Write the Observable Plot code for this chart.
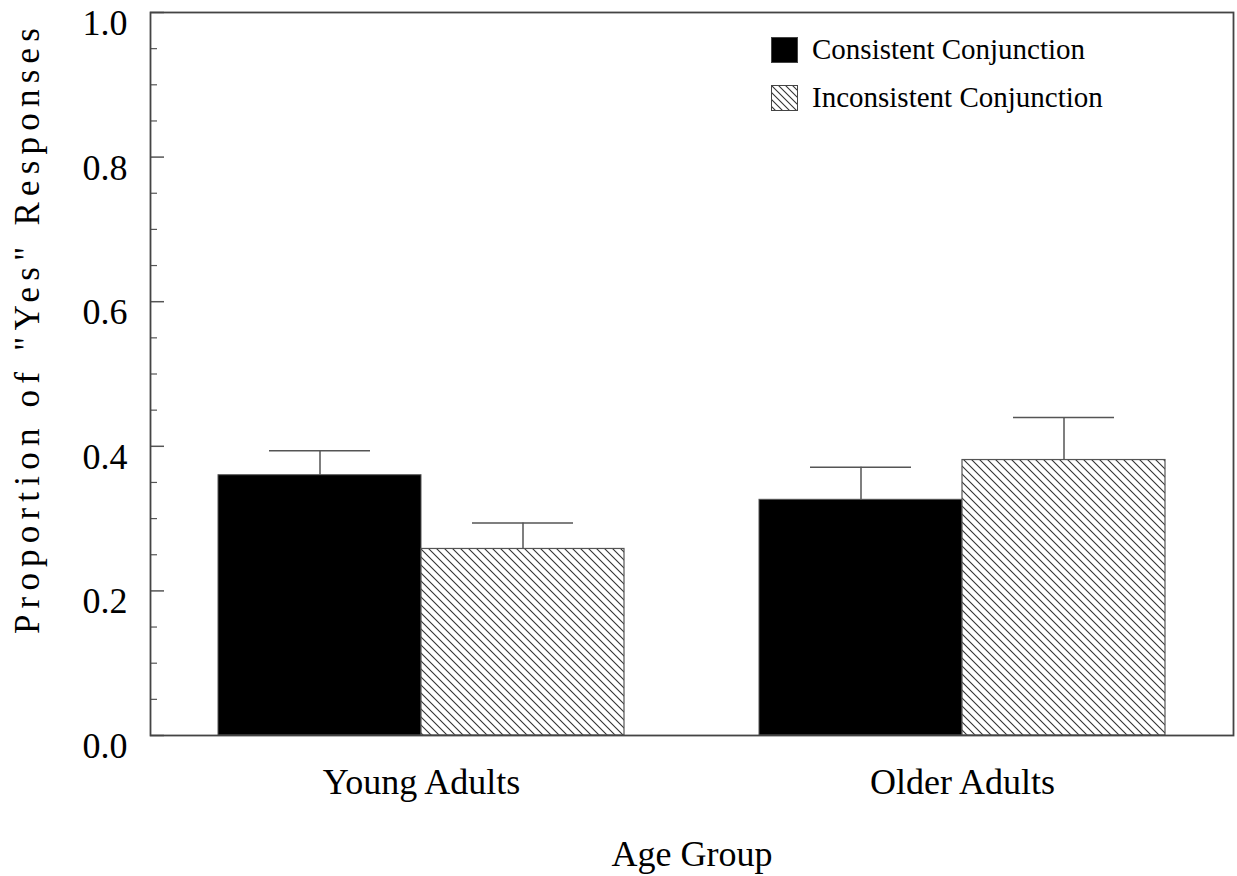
<!DOCTYPE html>
<html>
<head>
<meta charset="utf-8">
<script src="https://cdn.jsdelivr.net/npm/d3@7"></script>
<script src="https://cdn.jsdelivr.net/npm/@observablehq/plot@0.6"></script>
<style>
  html, body { margin: 0; padding: 0; background: #fff; }
  #wrap { position: relative; width: 1237px; height: 876px; font-family: "Liberation Serif", "Times New Roman", serif; }
  .leg { position: absolute; display: flex; align-items: center; font-size: 29px; color: #000; white-space: nowrap; }
  .leg svg { margin-right: 14px; }
</style>
</head>
<body>
<div id="wrap"></div>
<script>
// ---- data ----
const groups = ["Young Adults", "Older Adults"];
const series = ["Consistent Conjunction", "Inconsistent Conjunction"];
const consistent = [0.360, 0.326];
const consistentUpper = [0.394, 0.371];
const inconsistent = [0.258, 0.381];
const inconsistentUpper = [0.294, 0.440];
const yMajor = [0, 0.2, 0.4, 0.6, 0.8, 1.0];
const yMinor = [0.05, 0.1, 0.15, 0.25, 0.3, 0.35, 0.45, 0.5, 0.55, 0.65, 0.7, 0.75, 0.85, 0.9, 0.95];
const xTitle = "Age Group";
const yTitle = "Proportion of \"Yes\" Responses";

const consRows = groups.map((g, i) => ({group: g, value: consistent[i], upper: consistentUpper[i]}));
const incRows = groups.map((g, i) => ({group: g, value: inconsistent[i], upper: inconsistentUpper[i]}));

const W = 1237, H = 876;
const half = 203; // half of band width

const plot = Plot.plot({
  width: W,
  height: H,
  marginLeft: 150,
  marginRight: 4,
  marginTop: 12,
  marginBottom: 141,
  style: {fontFamily: "Liberation Serif, Times New Roman, serif", fontSize: "36px", color: "#000", background: "#fff", overflow: "visible"},
  x: {domain: groups, paddingInner: 0.25, paddingOuter: 0.125, label: null},
  y: {domain: [0, 1], label: null},
  marks: [
    Plot.barY(consRows, {x: "group", y: "value", insetRight: half, fill: "#000", stroke: "#555", strokeWidth: 1}),
    Plot.barY(incRows, {x: "group", y: "value", insetLeft: half, fill: "url(#hatch)", stroke: "#555", strokeWidth: 1.2}),
    Plot.ruleX(consRows, {x: "group", y1: "value", y2: "upper", dx: -half / 2, stroke: "#555", strokeWidth: 1.5}),
    Plot.ruleX(incRows, {x: "group", y1: "value", y2: "upper", dx: half / 2, stroke: "#555", strokeWidth: 1.5}),
    Plot.tickY(consRows, {x: "group", y: "upper", insetLeft: 51, insetRight: 254, stroke: "#555", strokeWidth: 1.5}),
    Plot.tickY(incRows, {x: "group", y: "upper", insetLeft: 254, insetRight: 51, stroke: "#555", strokeWidth: 1.5}),
    Plot.axisY({ticks: yMajor, tickSize: -14, text: null, stroke: "#555", strokeWidth: 1.5, label: null}),
    Plot.axisY({ticks: yMinor, tickSize: -7, text: null, stroke: "#555", strokeWidth: 1.2, label: null}),
    Plot.axisY({ticks: yMajor, tickSize: 0, tickPadding: 23, dy: 11, tickFormat: d3.format(".1f"), fontSize: 36, fill: "#000", label: null}),
    Plot.axisX({tickSize: 0, tickPadding: 33, fontSize: 36, fill: "#000", label: null}),
    Plot.frame({stroke: "#444", strokeWidth: 1.8}),
    Plot.text([xTitle], {frameAnchor: "bottom", dy: 130, fontSize: 36, fill: "#000"}),
    Plot.text([yTitle], {frameAnchor: "left", dx: -123, dy: -46, rotate: -90, textAnchor: "middle", fontSize: 35, fill: "#000"})
  ]
});

// hatch pattern definition
const defs = d3.select(plot).insert("defs", ":first-child");
const pat = defs.append("pattern")
  .attr("id", "hatch").attr("patternUnits", "userSpaceOnUse")
  .attr("width", 8).attr("height", 8);
pat.append("rect").attr("width", 8).attr("height", 8).attr("fill", "#fff");
pat.append("path").attr("d", "M0,0L8,8M-4,4L4,12M4,-4L12,4")
  .attr("stroke", "#333").attr("stroke-width", 1.1);

// letter-spaced y title
d3.select(plot).selectAll("text").filter(function() { return this.textContent === yTitle; })
  .attr("letter-spacing", "6.2px");

const wrap = document.getElementById("wrap");
wrap.appendChild(plot);

// legend
function legendItem(label, fill, top) {
  const div = document.createElement("div");
  div.className = "leg";
  div.style.left = "771px";
  div.style.top = top + "px";
  div.innerHTML = `<svg width="27" height="26" viewBox="0 0 27 26">
    <defs><pattern id="lh" patternUnits="userSpaceOnUse" width="7" height="7">
      <rect width="7" height="7" fill="#fff"/>
      <path d="M0,0L7,7M-3.5,3.5L3.5,10.5M3.5,-3.5L10.5,3.5" stroke="#333" stroke-width="1.1"/>
    </pattern></defs>
    <rect x="0.5" y="0.5" width="26" height="25" fill="${fill}" stroke="#444" stroke-width="1"/></svg><span>${label}</span>`;
  wrap.appendChild(div);
}
legendItem(series[0], "#000", 33);
legendItem(series[1], "url(#lh)", 81);
</script>
</body>
</html>
